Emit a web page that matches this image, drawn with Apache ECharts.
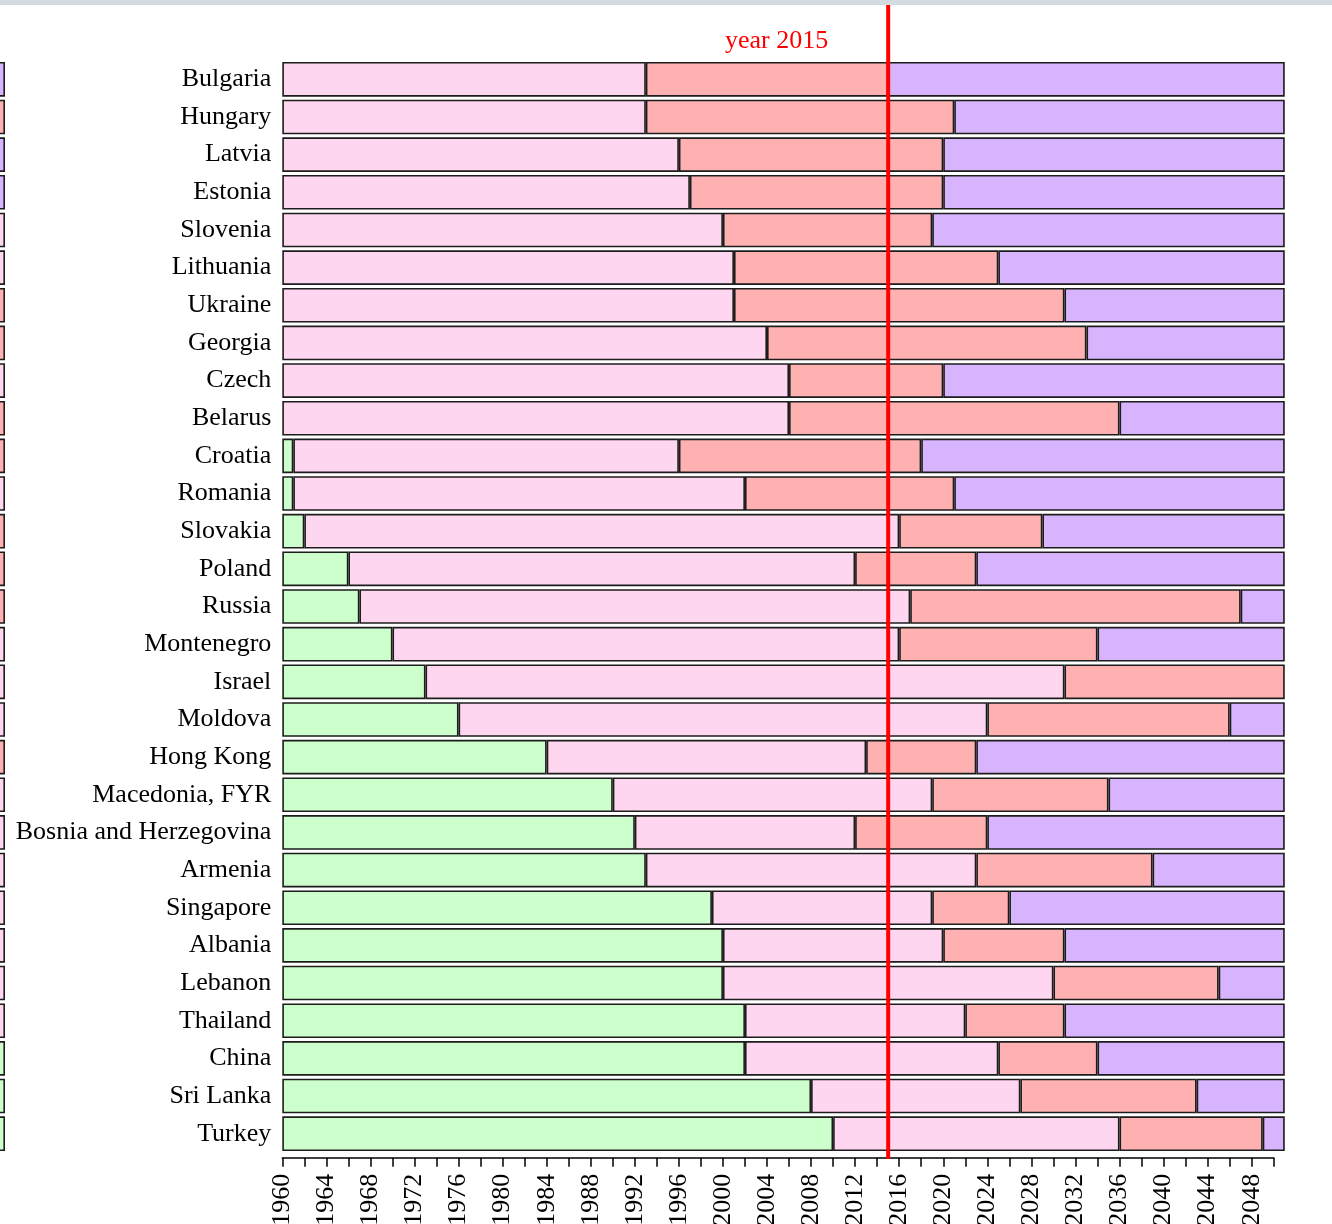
<!DOCTYPE html>
<html>
<head>
<meta charset="utf-8">
<script src="https://cdn.jsdelivr.net/npm/echarts@6/dist/echarts.min.js"></script>
<style>
  html, body { margin: 0; padding: 0; background: #fff; }
  #chart { width: 1332px; height: 1224px; }
  #topband { position: absolute; left: 0; top: 0; width: 1332px; height: 5px; background: #d3dae2; z-index: 5; }
</style>
</head>
<body>
<div id="topband"></div>
<div id="chart"></div>
<script>
// countries, top to bottom
const countries = [
  'Bulgaria', 'Hungary', 'Latvia', 'Estonia', 'Slovenia', 'Lithuania', 'Ukraine',
  'Georgia', 'Czech', 'Belarus', 'Croatia', 'Romania', 'Slovakia', 'Poland',
  'Russia', 'Montenegro', 'Israel', 'Moldova', 'Hong Kong', 'Macedonia, FYR',
  'Bosnia and Herzegovina', 'Armenia', 'Singapore', 'Albania', 'Lebanon',
  'Thailand', 'China', 'Sri Lanka', 'Turkey'
]
// year each stage ends (stage 1 green, 2 pink, 3 salmon; stage 4 runs to endYear)
const stage1End = [1960, 1960, 1960, 1960, 1960, 1960, 1960, 1960, 1960, 1960,
  1961, 1961, 1962, 1966, 1967, 1970, 1973, 1976, 1984, 1990,
  1992, 1993, 1999, 2000, 2000, 2002, 2002, 2008, 2010]
const stage2End = [1993, 1993, 1996, 1997, 2000, 2001, 2001, 2004, 2006, 2006,
  1996, 2002, 2016, 2012, 2017, 2016, 2031, 2024, 2013, 2019,
  2012, 2023, 2019, 2020, 2030, 2022, 2025, 2027, 2036]
const stage3End = [2015, 2021, 2020, 2020, 2019, 2025, 2031, 2033, 2020, 2036,
  2018, 2021, 2029, 2023, 2047, 2034, 2051, 2046, 2023, 2035,
  2024, 2039, 2026, 2031, 2045, 2031, 2034, 2043, 2049]
const startYear = 1960
const endYear = 2051
const refYear = 2015
// stage shown in the cut-off neighbouring panel (0 green .. 3 purple)
const leftPanelStage = [3, 2, 3, 3, 1, 1, 2, 2, 1, 2, 2, 1, 2, 2, 2, 1, 1, 1, 2, 1,
  1, 1, 1, 1, 1, 1, 0, 0, 0]

const stageColors = ['#CCFFCC', '#FFD6EF', '#FFB0B0', '#D8B3FE']
const borderColor = '#1c1c1c'
const serif = 'Liberation Serif'

const dur = (a, b) => a.map((v, i) => {
  const d = v - b[i]
  return d > 0 ? d : '-'
})
const stageData = [
  dur(stage1End, countries.map(() => startYear)),
  dur(stage2End, stage1End),
  dur(stage3End, stage2End),
  dur(countries.map(() => endYear), stage3End)
]

const pxPerYear = 11.016
const plotLeft = 282.3
const plotTop = 60.5
const plotHeight = 1092
const gap = '8%'

const chart = echarts.init(document.getElementById('chart'))

const series = [
  {
    type: 'bar', stack: 'years', xAxisIndex: 0, yAxisIndex: 0,
    data: countries.map(() => startYear),
    itemStyle: { color: 'rgba(0,0,0,0)', borderWidth: 0 },
    silent: true, barCategoryGap: gap
  }
]
stageData.forEach((d, k) => {
  series.push({
    type: 'bar', stack: 'years', xAxisIndex: 0, yAxisIndex: 0,
    data: d,
    itemStyle: { color: stageColors[k], borderColor: borderColor, borderWidth: 1.6 },
    barCategoryGap: gap
  })
})
// neighbouring panel strip
series.push({
  type: 'bar', xAxisIndex: 2, yAxisIndex: 2,
  data: leftPanelStage.map(s => ({ value: 1, itemStyle: { color: stageColors[s] } })),
  itemStyle: { borderColor: borderColor, borderWidth: 1.6 },
  barCategoryGap: gap
})
// year 2015 reference line
series.push({
  type: 'line', xAxisIndex: 3, yAxisIndex: 3,
  data: [[refYear, 0], [refYear, 1]],
  showSymbol: false, symbol: 'none',
  lineStyle: { color: '#ff0000', width: 4 },
  z: 10
})

chart.setOption({
  animation: false,
  backgroundColor: 'transparent',
  title: {
    text: 'year ' + refYear,
    left: 725, top: 28, padding: 0,
    textStyle: { color: '#ff0000', fontFamily: serif, fontSize: 26, fontWeight: 'normal' }
  },
  grid: [
    // bars
    { left: plotLeft, top: plotTop, width: (endYear - startYear) * pxPerYear, height: plotHeight, outerBoundsMode: 'none' },
    // tick axis (1960-2050)
    { left: plotLeft, top: 1156.7, width: (2050 - startYear) * pxPerYear, height: 1, outerBoundsMode: 'none' },
    // cut-off neighbouring panel
    { left: -93, top: plotTop, width: 98, height: plotHeight, outerBoundsMode: 'none' },
    // reference line
    { left: plotLeft, top: 5, width: (endYear - startYear) * pxPerYear, height: 1154, outerBoundsMode: 'none' }
  ],
  xAxis: [
    { gridIndex: 0, type: 'value', min: startYear, max: endYear, show: false },
    {
      gridIndex: 1, type: 'value', min: startYear, max: 2050, interval: 2,
      position: 'bottom',
      axisLine: { show: true, lineStyle: { color: '#000', width: 1.5 } },
      axisTick: { show: true, length: 9, lineStyle: { color: '#000', width: 1.5 } },
      splitLine: { show: false },
      axisLabel: {
        rotate: 90, margin: 16, color: '#000', fontFamily: serif, fontSize: 26,
        showMinLabel: true, showMaxLabel: true,
        formatter: v => (v % 4 === 0 ? String(v) : '')
      }
    },
    { gridIndex: 2, type: 'value', min: 0, max: 1, show: false },
    { gridIndex: 3, type: 'value', min: startYear, max: endYear, show: false }
  ],
  yAxis: [
    {
      gridIndex: 0, type: 'category', inverse: true, data: countries,
      axisLine: { show: false }, axisTick: { show: false },
      axisLabel: { margin: 11, color: '#000', fontFamily: serif, fontSize: 26, padding: [7, 0, 0, 0] }
    },
    { gridIndex: 1, type: 'value', show: false, min: 0, max: 1 },
    { gridIndex: 2, type: 'category', inverse: true, data: countries, show: false },
    { gridIndex: 3, type: 'value', min: 0, max: 1, show: false }
  ],
  series: series
})
</script>
</body>
</html>
